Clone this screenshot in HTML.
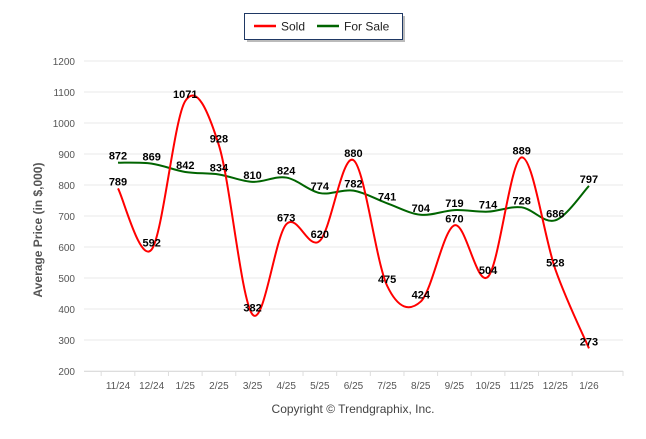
<!DOCTYPE html>
<html><head><style>
body{margin:0;background:#fff;width:646px;height:434px;overflow:hidden;font-family:"Liberation Sans",sans-serif}
</style></head><body>
<svg id="s" width="646" height="434" xmlns="http://www.w3.org/2000/svg" font-family="Liberation Sans, sans-serif">
<rect x="247" y="16" width="158" height="26" fill="#bbb"/>
<rect x="244.5" y="13.5" width="158" height="26" fill="#fff" stroke="#1f3864" stroke-width="1"/>
<line x1="254" y1="26" x2="276" y2="26" stroke="#f00" stroke-width="2.5"/>
<text x="281" y="30.5" font-size="12" fill="#222">Sold</text>
<line x1="317" y1="26" x2="339" y2="26" stroke="#006400" stroke-width="2.5"/>
<text x="344" y="30.5" font-size="12" fill="#222">For Sale</text>
<text transform="translate(42,230) rotate(-90)" text-anchor="middle" font-size="12" font-weight="bold" fill="#555">Average Price (in $,000)</text>
<text x="353" y="413" text-anchor="middle" font-size="12" fill="#444">Copyright © Trendgraphix, Inc.</text>
<g id="g"></g>
</svg>
<script>
var g=document.getElementById('g'),h='';
function Y(v){return 371-(v-200)*0.31}
function X(i){return 118+i*33.64}
for(var v=200;v<=1200;v+=100){h+='<line x1="84" x2="623" y1="'+Y(v)+'" y2="'+Y(v)+'" stroke="#e8e8e8"/>';
h+='<text x="75" y="'+(Y(v)+4)+'" text-anchor="end" font-size="10" fill="#555">'+v+'</text>';}
var L=['11/24','12/24','1/25','2/25','3/25','4/25','5/25','6/25','7/25','8/25','9/25','10/25','11/25','12/25','1/26'];
h+='<line x1="84" x2="623" y1="371.5" y2="371.5" stroke="#ddd"/>';
for(var i=0;i<=15;i++){var x=84+i*(539/16);}
for(var i=0;i<15;i++){h+='<line x1="'+(X(i)-16.8)+'" x2="'+(X(i)-16.8)+'" y1="371" y2="376" stroke="#ddd"/>';
h+='<text x="'+X(i)+'" y="389" text-anchor="middle" font-size="10" fill="#555">'+L[i]+'</text>';}
h+='<line x1="623" x2="623" y1="371" y2="376" stroke="#ddd"/>';
function path(d){var p=d.map(function(v,i){return[X(i),Y(v)]});var s='M'+p[0];
for(var i=0;i<p.length-1;i++){var a=p[i-1]||p[i],b=p[i],c=p[i+1],e=p[i+2]||c;
s+=' C'+(b[0]+(c[0]-a[0])/6)+','+(b[1]+(c[1]-a[1])/6)+' '+(c[0]-(e[0]-b[0])/6)+','+(c[1]-(e[1]-b[1])/6)+' '+c[0]+','+c[1];}return s;}
var S=[789,592,1071,928,382,673,620,880,475,424,670,504,889,528,273];
var F=[872,869,842,834,810,824,774,782,741,704,719,714,728,686,797];
h+='<path d="'+path(F)+'" fill="none" stroke="#006400" stroke-width="2"/>';
h+='<path d="'+path(S)+'" fill="none" stroke="#f00" stroke-width="2"/>';
[F,S].forEach(function(d){d.forEach(function(v,i){h+='<text x="'+X(i)+'" y="'+(Y(v)-3)+'" text-anchor="middle" font-size="11" font-weight="bold" fill="#000">'+v+'</text>';});});
g.innerHTML=h;
</script>
</body></html>
